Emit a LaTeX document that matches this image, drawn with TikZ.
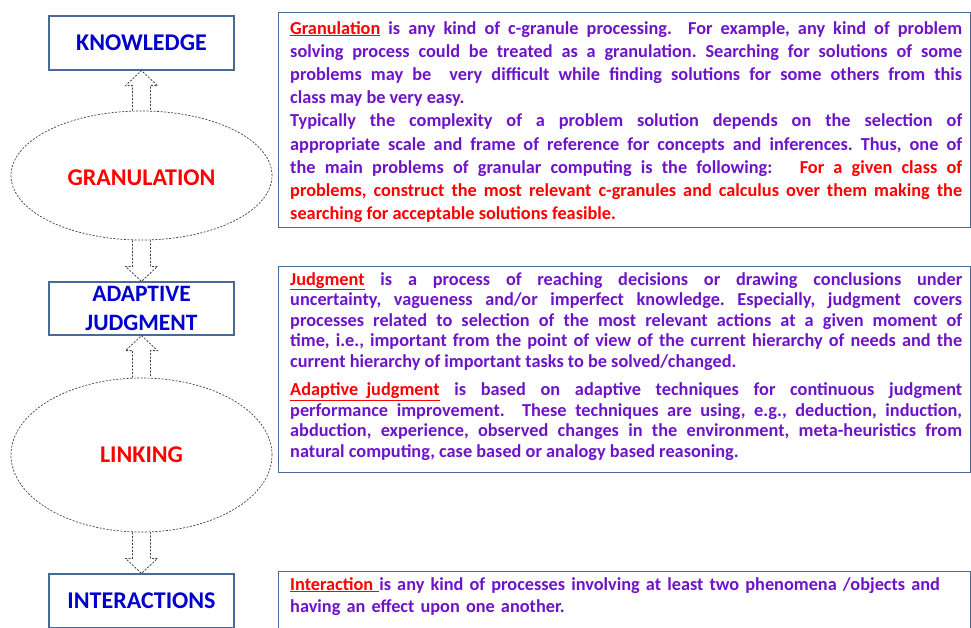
\documentclass[tikz,border=0pt]{standalone}
\usepackage{fontspec}
\setmainfont{Carlito}
\usetikzlibrary{shapes.geometric,calc}
\definecolor{frameblue}{RGB}{74,106,150}
\definecolor{labelblue}{RGB}{0,0,204}
\definecolor{bodypurple}{RGB}{110,20,200}
\setlength{\parindent}{0pt}
\frenchspacing
\tikzset{
  lbox/.style={draw=frameblue, line width=1.2pt, minimum width=185pt, minimum height=54pt, inner sep=0pt, align=center, text=labelblue, font=\bfseries\fontsize{24}{29}\selectfont},
  stage/.style={ellipse, draw=black!75, line width=0.7pt, dash pattern=on 2pt off 1.5pt, minimum width=261pt, inner sep=0pt, text=red, font=\bfseries\fontsize{24}{29}\selectfont},
  hollow/.style={draw=black!75, line width=0.8pt, dash pattern=on 2pt off 1.5pt},
  infobox/.style={draw=frameblue, line width=1.2pt, anchor=north west, inner sep=0pt, minimum width=692pt},
  body/.style={anchor=north west, inner sep=0pt, text width=672pt, align=justify, text=bodypurple, font=\bfseries\fontsize{18.3}{23.2}\selectfont},
}
% hollow block arrows between the stages
\newcommand{\arrup}[2]{%
  \draw[hollow] let \p1=(#1), \p2=(#2) in
    (\x1-9pt,\y1) -- (\x1-9pt,\y2-15pt) -- (\x1-16pt,\y2-15pt) -- (\x1,\y2)
    -- (\x1+16pt,\y2-15pt) -- (\x1+9pt,\y2-15pt) -- (\x1+9pt,\y1);}
\newcommand{\arrdown}[2]{%
  \draw[hollow] let \p1=(#1), \p2=(#2) in
    (\x1-9pt,\y1) -- (\x1-9pt,\y2+15pt) -- (\x1-16pt,\y2+15pt) -- (\x1,\y2)
    -- (\x1+16pt,\y2+15pt) -- (\x1+9pt,\y2+15pt) -- (\x1+9pt,\y1);}

\begin{document}
\begin{tikzpicture}[x=1pt, y=-1pt]
  \useasboundingbox (0,0) rectangle (971,627);

  % left column
  \node[lbox] (know) at (141.5,43) {KNOWLEDGE};
  \node[stage, minimum height=129pt, text height=20pt] (gran) at (141.5,175.5) {GRANULATION};
  \node[lbox, minimum height=53pt, font=\bfseries\fontsize{23.5}{29.5}\selectfont] (adapt) at (141.5,308.5) {ADAPTIVE\\JUDGMENT};
  \node[stage, minimum height=154pt] (link) at (141.5,455) {LINKING};
  \node[lbox] (inter) at (141.5,601) {INTERACTIONS};

  \arrup{gran.north}{know.south}
  \arrdown{gran.south}{adapt.north}
  \arrup{link.north}{adapt.south}
  \arrdown{link.south}{inter.north}

  % right column
  \node[infobox, minimum height=215pt] (granbox) at (278,12) {};
  \node[infobox, minimum height=206pt] (judgbox) at (278,266) {};
  \node[infobox, minimum height=80pt] (interbox) at (278,571) {};

  \node[body] (grantext) at (290,21) {%
    {\color{red}\underline{Granulation}} is any kind of c-granule processing.\ \ For example, any kind of problem\linebreak
    solving process could be treated as a granulation. Searching for solutions of some\linebreak
    problems may be\ \ very difficult while finding solutions for some others from this\linebreak
    class may be very easy.\par
    Typically the complexity of a problem solution depends on the selection of\linebreak
    appropriate scale and frame of reference for concepts and inferences. Thus, one of\linebreak
    the main problems of granular computing is the following:\ \ \ {\color{red}For a given class of\linebreak
    problems, construct the most relevant c-granules and calculus over them making the\linebreak
    searching for acceptable solutions feasible.}};

  \node[body, font=\bfseries\fontsize{18.3}{20.6}\selectfont] (judgtext) at (290,272) {%
    {\color{red}\underline{Judgment}} is a process of reaching decisions or drawing conclusions under\linebreak
    uncertainty, vagueness and/or imperfect knowledge. Especially, judgment covers\linebreak
    processes related to selection of the most relevant actions at a given moment of\linebreak
    time, i.e., important from the point of view of the current hierarchy of needs and the\linebreak
    current hierarchy of important tasks to be solved/changed.\par\vspace{7.4pt}
    {\color{red}\underline{Adaptive\ \ judgment}} is based on adaptive techniques for continuous judgment\linebreak
    performance improvement.\ \ These techniques are using, e.g., deduction, induction,\linebreak
    abduction, experience, observed changes in the environment, meta-heuristics from\linebreak
    natural computing, case based or analogy based reasoning.};

  \node[body, align=left, font=\bfseries\fontsize{18.3}{22}\selectfont] (intertext) at (290,577) {%
    {\color{red}\underline{Interaction }}is any kind of processes involving at least two phenomena /objects and\\
    having an effect upon one another.};
\end{tikzpicture}
\end{document}
